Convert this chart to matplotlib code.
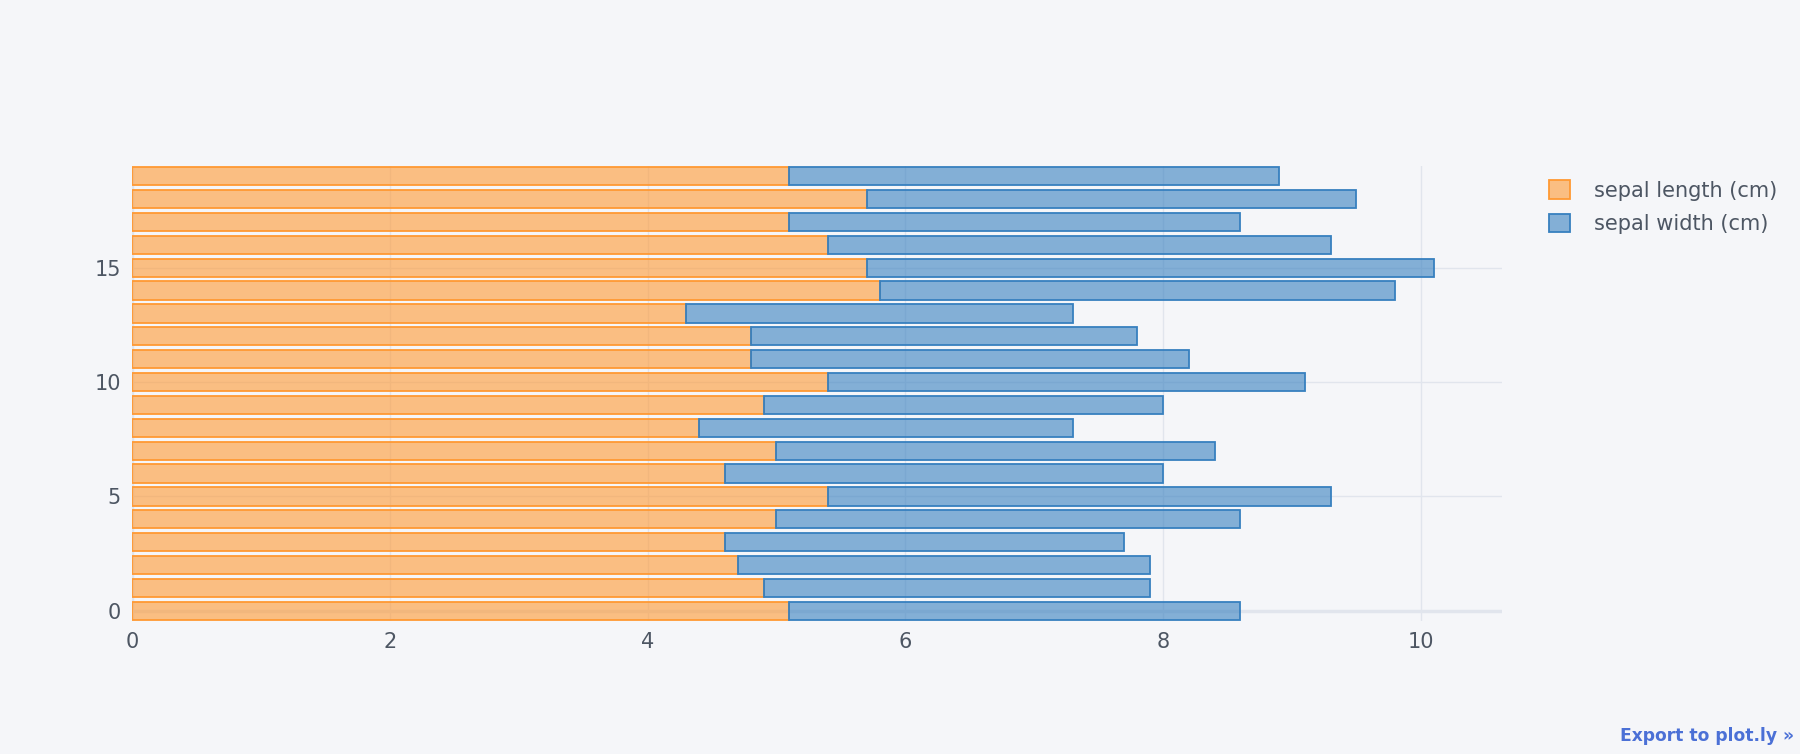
import matplotlib.pyplot as plt
import numpy as np

# first 20 rows of iris
sepal_length = [5.1, 4.9, 4.7, 4.6, 5.0, 5.4, 4.6, 5.0, 4.4, 4.9,
                5.4, 4.8, 4.8, 4.3, 5.8, 5.7, 5.4, 5.1, 5.7, 5.1]
sepal_width = [3.5, 3.0, 3.2, 3.1, 3.6, 3.9, 3.4, 3.4, 2.9, 3.1,
               3.7, 3.4, 3.0, 3.0, 4.0, 4.4, 3.9, 3.5, 3.8, 3.8]
labels = ['sepal length (cm)', 'sepal width (cm)']

bg = '#F5F6F9'
grid = '#E1E5ED'
txt = '#4D5663'

fig = plt.figure(figsize=(18, 7.54), dpi=100, facecolor=bg)
ax = fig.add_axes([132 / 1800, 1 - 621 / 754, (1502 - 132) / 1800, (621 - 166) / 754])
ax.set_facecolor(bg)

idx = np.arange(len(sepal_length))
ax.barh(idx, sepal_length, height=0.8, color=(1.0, 0.6, 0.2, 0.6),
        edgecolor=(1.0, 0.6, 0.2, 1.0), linewidth=1.3, label=labels[0], zorder=3)
ax.barh(idx, sepal_width, left=sepal_length, height=0.8, color=(0.216, 0.502, 0.749, 0.6),
        edgecolor=(0.216, 0.502, 0.749, 1.0), linewidth=1.3, label=labels[1], zorder=3)

ax.set_xlim(0, 10.63)
ax.set_ylim(-0.45, 19.45)
ax.set_xticks([0, 2, 4, 6, 8, 10])
ax.set_yticks([0, 5, 10, 15])
ax.grid(True, color=grid, linewidth=1, zorder=0)
ax.axhline(0, color=grid, linewidth=2.5, zorder=1)
ax.axvline(0, color=grid, linewidth=2.5, zorder=1)
for s in ax.spines.values():
    s.set_visible(False)
ax.tick_params(length=0, colors=txt, labelsize=15, pad=8)

leg = ax.legend(loc='upper left', bbox_to_anchor=(1.0205, 1.01), frameon=False,
                fontsize=15, labelcolor=txt, handlelength=1.0, handleheight=1.0,
                handletextpad=1.18, labelspacing=0.62)

fig.text(0.997, 0.012, 'Export to plot.ly \u00bb', ha='right', va='bottom',
         color='#4B70D6', fontsize=12.3, fontweight='bold')

fig.savefig('out.png', facecolor=bg)
